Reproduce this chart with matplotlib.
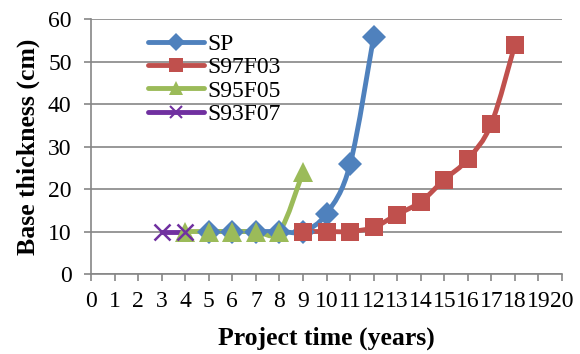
import numpy as np
import matplotlib
matplotlib.use("Agg")
import matplotlib.pyplot as plt
from matplotlib.path import Path
from matplotlib.patches import PathPatch
from matplotlib.lines import Line2D

# 数据
sp_x = [5, 6, 7, 8, 9, 10, 11, 12]
sp_y = [10, 10, 10, 10, 10, 14.2, 25.8, 55.8]
s97_x = [9, 10, 11, 12, 13, 14, 15, 16, 17, 18]
s97_y = [10, 10, 10, 11, 14, 17, 22.2, 27, 35.4, 54]
s95_x = [4, 5, 6, 7, 8, 9]
s95_y = [10, 10, 10, 10, 10, 24]
s93_x = [3, 4]
s93_y = [10, 10]

series_names = ['SP', 'S97F03', 'S95F05', 'S93F07']
x_ticks = list(range(0, 21))
y_ticks = [0, 10, 20, 30, 40, 50, 60]

plt.rcParams['font.family'] = ['Liberation Serif', 'DejaVu Serif']

fig = plt.figure(figsize=(5.8, 3.54), dpi=100)
ax = fig.add_axes([0.157, 0.226, 0.812, 0.72])


def smooth_path(xs, ys):
    # 类似 Excel 平滑线的贝塞尔曲线
    pts = np.column_stack([xs, ys]).astype(float)
    n = len(pts)
    if n < 3:
        return Path(pts)
    verts = [pts[0]]
    codes = [Path.MOVETO]
    for i in range(n - 1):
        p0 = pts[i - 1] if i > 0 else pts[i]
        p1 = pts[i]
        p2 = pts[i + 1]
        p3 = pts[i + 2] if i + 2 < n else pts[i + 1]
        c1 = p1 + (p2 - p0) / 6.0
        c2 = p2 - (p3 - p1) / 6.0
        verts += [c1, c2, p2]
        codes += [Path.CURVE4] * 3
    return Path(verts, codes)


styles = [
    (sp_x, sp_y, '#4F81BD', 'D', 12),
    (s97_x, s97_y, '#C0504D', 's', 13),
    (s95_x, s95_y, '#9BBB59', '^', 14),
    (s93_x, s93_y, '#7030A0', 'x', 12),
]

handles = []
for (xs, ys, c, m, ms), name in zip(styles, series_names):
    patch = PathPatch(smooth_path(xs, ys), facecolor='none', edgecolor=c,
                      lw=3.5, capstyle='round', joinstyle='round', zorder=3)
    ax.add_patch(patch)
    ax.plot(xs, ys, linestyle='none', marker=m, markersize=ms, color=c,
            markeredgewidth=1.8 if m == 'x' else 0, zorder=4)
    handles.append(Line2D([], [], color=c, lw=3.5, marker=m, markersize=ms * 0.75,
                          markeredgewidth=1.5 if m == 'x' else 0,
                          solid_capstyle='round'))

ax.set_xlim(0, 20)
ax.set_ylim(0, 60)
ax.set_xticks(x_ticks)
ax.set_yticks(y_ticks)
ax.set_xticklabels([str(t) for t in x_ticks])
ax.grid(axis='y', color='#868686', lw=1.2)
ax.set_axisbelow(True)

for s in ['top', 'right']:
    ax.spines[s].set_visible(False)
for s in ['left', 'bottom']:
    ax.spines[s].set_color('#868686')
    ax.spines[s].set_linewidth(1.2)

ax.tick_params(axis='both', colors='#868686', labelcolor='black', labelsize=17,
               length=5, width=1.2, direction='out')
ax.tick_params(axis='x', pad=7)
ax.tick_params(axis='y', pad=9)

ax.set_xlabel('Project time (years)', fontsize=18.5, fontweight='bold', labelpad=11)
ax.set_ylabel('Base thickness (cm)', fontsize=18.5, fontweight='bold', labelpad=6)

ax.legend(handles, series_names, loc='upper left', bbox_to_anchor=(0.09, 1.0),
          frameon=False, fontsize=17, handlelength=2.4, handletextpad=0.15,
          labelspacing=0.08, borderaxespad=0.2)

fig.savefig('out.png', dpi=100)
